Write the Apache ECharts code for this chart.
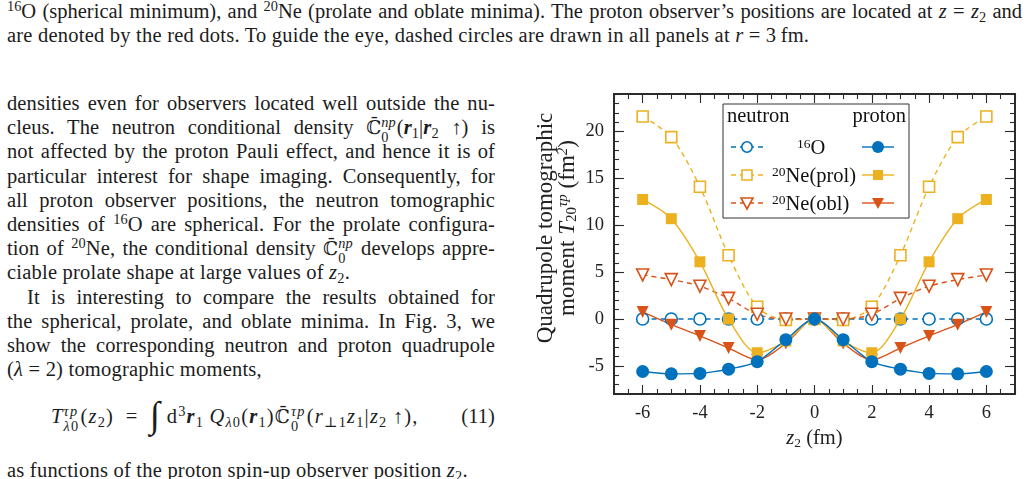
<!DOCTYPE html>
<html>
<head>
<meta charset="utf-8">
<script src="https://cdn.jsdelivr.net/npm/echarts@6/dist/echarts.min.js"></script>
<style>
body{margin:0;width:1029px;height:479px;overflow:hidden;background:#fff;position:relative;font-family:"Liberation Serif","DejaVu Serif",serif;color:#1c1c1c;}
.ln{position:absolute;left:7px;width:488px;white-space:nowrap;font-size:20.5px;letter-spacing:0.1px;line-height:24.2px;text-align:justify;text-align-last:justify;}
.cap{width:1015px;letter-spacing:0;}
.last{text-align-last:left;letter-spacing:0.22px;}
.sp{font-size:0.7em;position:relative;top:-0.5em;line-height:0;}
.sb{font-size:0.7em;position:relative;top:0.25em;line-height:0;}
.ss{display:inline-block;font-size:0.7em;line-height:1.05em;vertical-align:-0.55em;margin:-1em 1px -1em 0;text-align:left;}
.ss span{display:block;}
.cc{font-family:"DejaVu Serif",serif;font-size:0.92em;}
.eq{position:absolute;left:44px;letter-spacing:1.2px;}
#chart{position:absolute;left:505px;top:60px;width:524px;height:419px;}
</style>
</head>
<body>
<!-- caption -->
<div class="ln cap" style="top:-1px">
<span class="sp">16</span>O (spherical minimum), and <span class="sp">20</span>Ne (prolate and oblate minima). The proton observer’s positions are located at <i>z</i> = <i>z</i><span class="sb">2</span> and</div>
<div class="ln cap last" style="top:23px">are denoted by the red dots. To guide the eye, dashed circles are drawn in all panels at <i>r</i> = 3&#8201;fm.</div>

<!-- text column -->
<div class="ln" style="top:91px">densities even for observers located well outside the nu-</div>
<div class="ln" style="top:115.2px">cleus. The neutron conditional density <span class="cc">ℂ̄</span><span class="ss"><span><i>np</i></span><span>0</span></span>(<b><i>r</i></b><span class="sb">1</span>|<b><i>r</i></b><span class="sb">2</span> ↑) is</div>
<div class="ln" style="top:139.4px">not affected by the proton Pauli effect, and hence it is of</div>
<div class="ln" style="top:163.6px">particular interest for shape imaging. Consequently, for</div>
<div class="ln" style="top:187.8px">all proton observer positions, the neutron tomographic</div>
<div class="ln" style="top:212px">densities of <span class="sp">16</span>O are spherical. For the prolate configura-</div>
<div class="ln" style="top:236.2px">tion of <span class="sp">20</span>Ne, the conditional density <span class="cc">ℂ̄</span><span class="ss"><span><i>np</i></span><span>0</span></span> develops appre-</div>
<div class="ln last" style="top:260.4px">ciable prolate shape at large values of <i>z</i><span class="sb">2</span>.</div>
<div class="ln" style="top:284.6px;left:27px;width:468px">It is interesting to compare the results obtained for</div>
<div class="ln" style="top:308.8px">the spherical, prolate, and oblate minima. In Fig. 3, we</div>
<div class="ln" style="top:333px">show the corresponding neutron and proton quadrupole</div>
<div class="ln last" style="top:357.2px">(<i>λ</i> = 2) tomographic moments,</div>
<div class="ln" style="top:404px;text-align-last:left">
<span class="eq"><i>T</i><span class="ss"><span><i>τp</i></span><span><i>λ</i>0</span></span>(<i>z</i><span class="sb">2</span>) &#8201;=&#8201; <span style="font-size:1.8em;position:relative;top:0.12em;line-height:0">∫</span>&#8201;d<span class="sp">3</span><b><i>r</i></b><span class="sb">1</span>&#8201;<i>Q</i><span class="sb"><i>λ</i>0</span>(<b><i>r</i></b><span class="sb">1</span>)<span class="cc">ℂ̄</span><span class="ss"><span><i>τp</i></span><span>0</span></span>(<i>r</i><span class="sb">⊥1</span><i>z</i><span class="sb">1</span>|<i>z</i><span class="sb">2</span>&#8201;↑),</span>
<span style="position:absolute;right:0">(11)</span></div>
<div class="ln last" style="top:458px">as functions of the proton spin-up observer position <i>z</i><span class="sb">2</span>.</div>

<div id="chart"></div>
<script>
// 横轴位置 z2 (fm)
var zPos = [-6, -5, -4, -3, -2, -1, 0, 1, 2, 3, 4, 5, 6];
var xTickLabels = [-6, -4, -2, 0, 2, 4, 6];
var yTickLabels = [-5, 0, 5, 10, 15, 20];

// neutron (open markers, dashed)
var nO16    = [0, 0, 0, 0, 0, 0, 0, 0, 0, 0, 0, 0, 0];
var nNeProl = [21.6, 19.4, 14.1, 6.8, 1.3, -0.1, 0, -0.1, 1.3, 6.8, 14.1, 19.4, 21.6];
var nNeObl  = [4.7, 4.2, 3.5, 2.2, 0.5, 0, 0, 0, 0.5, 2.2, 3.5, 4.2, 4.7];
// proton (filled markers, solid)
var pO16    = [-5.6, -5.85, -5.8, -5.35, -4.55, -2.2, 0, -2.2, -4.55, -5.35, -5.8, -5.85, -5.6];
var pNeProl = [12.75, 10.7, 6.1, 0.0, -3.6, -2.35, 0, -2.35, -3.6, 0.0, 6.1, 10.7, 12.75];
var pNeObl  = [0.75, -0.6, -1.8, -3.1, -4.35, -2.6, 0, -2.6, -4.35, -3.1, -1.8, -0.6, 0.75];

var cBlue = '#0072BD', cOrange = '#EDB120', cRed = '#D95319';
var axColor = '#2b2b2b';
var font = '"Liberation Serif", "DejaVu Serif", serif';

function pairs(vals) {
	return zPos.map(function (z, i) { return [z, vals[i]]; });
}

// 坐标轴: 短刻度一根, 长刻度一根
function makeAxis(pos, min, max, len, custom, labels) {
	var ax = {
		type: 'value',
		position: pos,
		min: min,
		max: max,
		interval: 1,
		axisLine: { show: true, onZero: false, lineStyle: { color: axColor, width: 1.8 } },
		axisTick: { show: true, inside: true, length: len, lineStyle: { color: axColor, width: 1.1 } },
		axisLabel: { show: false },
		splitLine: { show: false }
	};
	if (custom) ax.axisTick.customValues = custom;
	if (labels) {
		ax.axisLabel = {
			show: true, customValues: labels, margin: 10,
			fontSize: 18.5, fontFamily: font, color: '#222'
		};
	}
	return ax;
}

var xAxes = [
	makeAxis('bottom', -7, 7, 5, null, xTickLabels),
	makeAxis('bottom', -7, 7, 9, xTickLabels, null),
	makeAxis('top', -7, 7, 5, null, null),
	makeAxis('top', -7, 7, 9, xTickLabels, null)
];
xAxes.forEach(function (a) { a.interval = 0.5; });
xAxes[0].name = '{it|z}{sub|2} (fm)';
xAxes[0].nameLocation = 'middle';
xAxes[0].nameGap = 34;
xAxes[0].nameTextStyle = {
	fontSize: 20.5, fontFamily: font, color: '#222',
	rich: { it: { fontSize: 20.5, fontStyle: 'italic', fontFamily: font, color: '#222' },
		sub: { fontSize: 13.5, fontFamily: font, color: '#222', padding: [8, 0, 0, 0] } }
};

var yAxes = [
	makeAxis('left', -8, 24, 5, null, yTickLabels),
	makeAxis('left', -8, 24, 10, yTickLabels, null),
	makeAxis('right', -8, 24, 5, null, null),
	makeAxis('right', -8, 24, 10, yTickLabels, null)
];

function makeSeries(name, vals, color, symbol, size, open, rotate) {
	return {
		name: name,
		type: 'line',
		xAxisIndex: 0,
		yAxisIndex: 0,
		data: pairs(vals),
		smooth: 0.3,
		symbol: symbol,
		symbolSize: size,
		symbolRotate: rotate || 0,
		showAllSymbol: true,
		lineStyle: { color: color, width: 1.4, type: open ? [5, 4] : 'solid' },
		itemStyle: open ? { color: '#fff', borderColor: color, borderWidth: 1.6 } : { color: color, borderWidth: 0 },
		animation: false
	};
}

var seriesArray = [
	makeSeries('n 16O', nO16, cBlue, 'circle', 12, true),
	makeSeries('n 20Ne(prol)', nNeProl, cOrange, 'rect', 11, true),
	makeSeries('n 20Ne(obl)', nNeObl, cRed, 'triangle', 12, true, 180),
	makeSeries('p 20Ne(obl)', pNeObl, cRed, 'triangle', 12, false, 180),
	makeSeries('p 20Ne(prol)', pNeProl, cOrange, 'rect', 11, false),
	makeSeries('p 16O', pO16, cBlue, 'circle', 13, false)
];

// 图例 (自己画)
var legendRows = ['{sup|16}O', '{sup|20}Ne(prol)', '{sup|20}Ne(obl)'];
var legendColors = [cBlue, cOrange, cRed];
var legendSym = ['circle', 'rect', 'tri'];
var legendRowY = [87, 115, 143];
var txtRich = { sup: { fontSize: 13.5, fontFamily: font, fill: '#111', padding: [0, 0, 9, 0] } };

function symbolEl(kind, cx, cy, color, open) {
	var st = open ? { fill: '#fff', stroke: color, lineWidth: 1.6 } : { fill: color, stroke: null };
	if (kind === 'circle') return { type: 'circle', shape: { cx: cx, cy: cy, r: open ? 5.2 : 6 }, style: st, z: 102 };
	if (kind === 'rect') return { type: 'rect', shape: { x: cx - 5, y: cy - 5, width: 10, height: 10 }, style: st, z: 102 };
	return { type: 'polygon', shape: { points: [[cx - 6, cy - 5], [cx + 6, cy - 5], [cx, cy + 6]] }, style: st, z: 102 };
}

var graphics = [
	{ type: 'rect', shape: { x: 218, y: 44, width: 186, height: 114 }, style: { fill: '#fff', stroke: '#333', lineWidth: 1 }, z: 100 },
	{ type: 'text', style: { text: 'neutron', x: 222, y: 57, font: '20.5px ' + font, fill: '#111', verticalAlign: 'middle' }, z: 101 },
	{ type: 'text', style: { text: 'proton', x: 401, y: 57, font: '20.5px ' + font, fill: '#111', align: 'right', verticalAlign: 'middle' }, z: 101 }
];
for (var i = 0; i < legendRows.length; i++) {
	var y = legendRowY[i];
	graphics.push({ type: 'line', shape: { x1: 226, y1: y, x2: 258, y2: y }, style: { stroke: legendColors[i], lineWidth: 1.4, lineDash: [5, 4] }, z: 101 });
	graphics.push(symbolEl(legendSym[i], 242, y, legendColors[i], true));
	graphics.push({ type: 'line', shape: { x1: 357, y1: y, x2: 389, y2: y }, style: { stroke: legendColors[i], lineWidth: 1.4 }, z: 101 });
	graphics.push(symbolEl(legendSym[i], 373, y, legendColors[i], false));
	graphics.push({ type: 'text', style: { text: legendRows[i], x: i === 0 ? 292 : 267, y: y + 2, font: '20.5px ' + font, fill: '#111', verticalAlign: 'middle', rich: txtRich }, z: 101 });
}
// y 轴标题 (两行分开居中)
var yTitleRich = {
	it: { fontSize: 23, fontStyle: 'italic', fontFamily: font, fill: '#222' },
	sub: { fontSize: 15, fontFamily: font, fill: '#222', padding: [9, 0, 0, 0] },
	sup: { fontSize: 15, fontFamily: font, fill: '#222', fontStyle: 'italic', padding: [0, 0, 10, 0] }
};
graphics.push({
	type: 'text', x: 41, y: 168, rotation: Math.PI / 2,
	style: { text: 'Quadrupole tomographic', x: 0, y: 0, align: 'center', verticalAlign: 'middle', font: '23px ' + font, fill: '#222' }
});
graphics.push({
	type: 'text', x: 63, y: 168, rotation: Math.PI / 2,
	style: { text: 'moment {it|T}{sub|20}{sup|τp} (fm{sup|2})', x: 0, y: 0, align: 'center', verticalAlign: 'middle', font: '23px ' + font, fill: '#222', rich: yTitleRich }
});

var chart = echarts.init(document.getElementById('chart'));
chart.setOption({
	animation: false,
	grid: { left: 109, right: 14, top: 34, bottom: 85 },
	xAxis: xAxes,
	yAxis: yAxes,
	series: seriesArray,
	graphic: graphics
});
</script>
</body>
</html>
